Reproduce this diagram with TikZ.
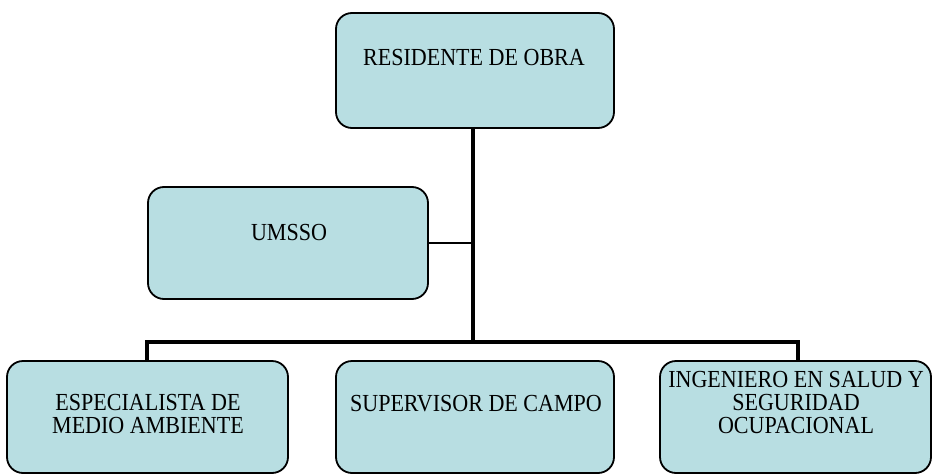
\documentclass[tikz,border=0pt]{standalone}
\usepackage{fontspec}
\setmainfont{Liberation Serif}
\definecolor{boxfill}{RGB}{184,222,226}
\begin{document}
\begin{tikzpicture}[x=1pt,y=-1pt,
  orgbox/.style={draw=black, line width=1.8pt, fill=boxfill, rounded corners=16pt},
  lbl/.style={font=\fontsize{24.5}{23}\selectfont, align=center, inner sep=0pt, xscale=0.9},
  conn/.style={draw=black, line width=3.4pt}]
\useasboundingbox (0,0) rectangle (938,474);
% boxes
\draw[orgbox] (336,13) rectangle (614,128);
\node[lbl] (top) at (474,58) {RESIDENTE DE OBRA};
\coordinate (topb) at (473,128);
\draw[orgbox] (148,187) rectangle (428,299);
\node[lbl] (ums) at (289,233) {UMSSO};
\coordinate (umsr) at (428,243);
\draw[orgbox] (7,361) rectangle (288,473);
\node[lbl] (esp) at (148,414) {ESPECIALISTA DE\\MEDIO AMBIENTE};
\draw[orgbox] (336,361) rectangle (614,473);
\node[lbl] (sup) at (476,404) {SUPERVISOR DE CAMPO};
\draw[orgbox] (660,361) rectangle (931,473);
\node[lbl] (ing) at (796,403) {INGENIERO EN SALUD Y\\SEGURIDAD\\OCUPACIONAL};
% connectors
\coordinate (j1) at (473,243);
\coordinate (bar) at (473,342);
\coordinate (bl) at (147,342);
\coordinate (br) at (798,342);
\coordinate (blt) at (147,361);
\coordinate (brt) at (798,361);
\draw[conn] (topb) -- (bar);
\draw[draw=black,line width=2.4pt] (umsr) -- (j1);
\draw[conn] (blt) -- (bl) -- (br) -- (brt);
\end{tikzpicture}
\end{document}
